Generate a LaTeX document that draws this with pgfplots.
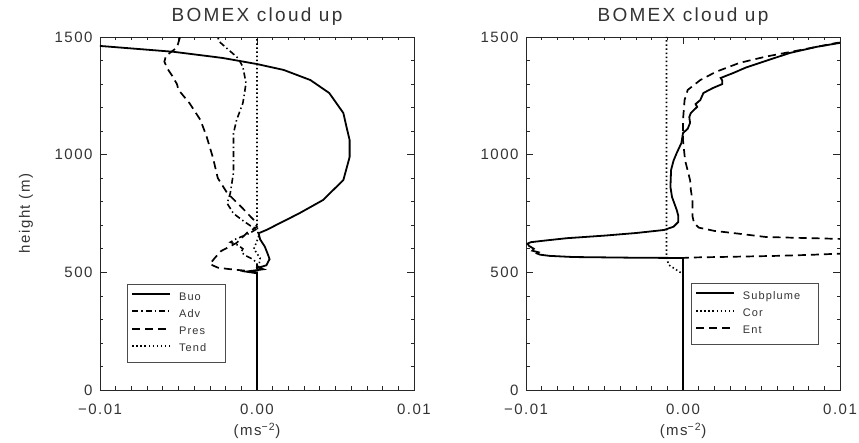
\documentclass[border=0pt]{standalone}
\usepackage{fontspec}
\setmainfont{Liberation Sans}[LetterSpace=10]
\usepackage{pgfplots}
\pgfplotsset{compat=1.18}
\pgfplotsset{legend image code/.code={\draw[#1, line width=1.9pt] (0pt,3pt) -- (38pt,3pt);}}
\definecolor{txt}{gray}{0.2}
\tikzset{
 sol/.style={black, line width=1.8pt, solid},
 dd/.style={black, line width=1.6pt, dash pattern=on 6pt off 3pt on 1.4pt off 3pt},
 dsh/.style={black, line width=1.7pt, dash pattern=on 8pt off 5pt},
 dot/.style={black, line width=1.6pt, dash pattern=on 1.5pt off 2.6pt},
}
\begin{document}
\begin{tikzpicture}[x=1pt,y=1pt]
\useasboundingbox (-100,-53) rectangle (759,390);
\pgfplotsset{
 panel/.style={
  width=314pt, height=353pt, scale only axis,
  xmin=-0.01, xmax=0.01, ymin=0, ymax=1500,
  xtick={-0.01,0,0.01}, xticklabels={−0.01,0.00,0.01},
  ytick={0,500,1000,1500}, yticklabels={0,500,1000,1500},
  scaled x ticks=false,
  /pgf/number format/assume math mode=true,
  minor x tick num=9, minor y tick num=4,
  major tick length=7pt, minor tick length=3.5pt,
  tick align=inside,
  tick style={black!85, line width=0.7pt},
  axis line style={black!85, line width=0.8pt},
  every tick label/.append style={font=\fontsize{15}{17}\selectfont, text=txt},
  yticklabel style={xshift=-4pt},
  xticklabel style={yshift=-10pt},
  title={\addfontfeature{LetterSpace=12}BOMEX cloud up},
  title style={font=\fontsize{19}{21}\selectfont, text=txt, at={(axis description cs:0.5,1)}, anchor=base, yshift=9pt},
  xlabel={(ms\textsuperscript{−2})},
  xlabel style={font=\fontsize{15}{17}\selectfont, text=txt, at={(axis description cs:0.5,0)}, anchor=center, yshift=-41pt},
  legend cell align=left,
  legend style={draw=black!70, font=\fontsize{11}{13}\selectfont, text=txt,
    anchor=south west, inner xsep=4pt, inner ysep=8pt, row sep=7.3pt, column sep=8pt,
    nodes={inner sep=0pt, text height=8pt, text depth=2pt}},
 },
}
\begin{axis}[panel, at={(0pt,0pt)}, anchor=south west,
  ylabel={height (m)},
  ylabel style={font=\fontsize{15}{17}\selectfont, text=txt, at={(axis description cs:-0.236,0.5)}, anchor=center},
  legend style={at={(0.086,0.079)}}]
\addplot[sol] coordinates {(0,0) (0,496) (-0.0007,503) (0.0004,513) (0.0001,520) (0.0006,530) (0.0008,556) (0.0007,575) (0.0005,609) (0.0002,640) (0.0001,666) (0.0006,680) (0.0027,751) (0.0042,807) (0.0055,892) (0.0059,990) (0.0059,1062) (0.0057,1118) (0.0055,1177) (0.0046,1262) (0.0034,1317) (0.0017,1360) (0,1385) (-0.0022,1411) (-0.0053,1437) (-0.0100,1462) (-0.0110,1467)};
\addlegendentry{Buo}
\addplot[dd] coordinates {(0,0) (0,540) (-0.0003,557) (-0.0007,570) (-0.0010,585) (-0.0009,600) (-0.0012,615) (-0.0017,628) (-0.0014,640) (-0.0005,665) (0,685) (-0.0004,697) (-0.0009,720) (-0.0015,750) (-0.0019,793) (-0.0017,837) (-0.0016,880) (-0.0015,922) (-0.0015,980) (-0.0015,1033) (-0.0015,1090) (-0.0013,1147) (-0.0009,1219) (-0.0008,1260) (-0.0007,1304) (-0.0009,1373) (-0.0012,1410) (-0.0018,1445) (-0.0024,1480) (-0.0025,1500)};
\addlegendentry{Adv}
\addplot[dsh] coordinates {(0,0) (0,500) (-0.0006,506) (-0.0018,514) (-0.0025,520) (-0.0030,535) (-0.0027,560) (-0.0023,590) (-0.0013,625) (-0.0006,670) (0,693) (-0.0002,722) (-0.0010,778) (-0.0019,837) (-0.0025,901) (-0.0028,986) (-0.0032,1075) (-0.0036,1147) (-0.0043,1219) (-0.0050,1275) (-0.0051,1300) (-0.0054,1335) (-0.0057,1365) (-0.0059,1395) (-0.0058,1420) (-0.0051,1455) (-0.0049,1500)};
\addlegendentry{Pres\hspace*{16pt}}
\addplot[dot] coordinates {(0,0) (0,500) (0.0001,520) (0.0002,560) (-0.0002,600) (0.0001,650) (0,700) (0,1500)};
\addlegendentry{Tend}
\end{axis}
\begin{axis}[panel, at={(426pt,0pt)}, anchor=south west,
  legend style={at={(0.525,0.130)}}]
\addplot[sol] coordinates {(0,0) (0,561) (-0.0030,562) (-0.0070,565) (-0.0085,570) (-0.0091,575) (-0.0093,580) (-0.0092,585) (-0.0096,592) (-0.0095,600) (-0.0098,612) (-0.0099,622) (-0.0097,628) (-0.0088,635) (-0.0074,645) (-0.0050,656) (-0.0030,667) (-0.0012,680) (-0.0006,694) (-0.0003,714) (-0.0003,740) (-0.0004,765) (-0.0007,820) (-0.0008,863) (-0.00076,935) (-0.0006,975) (-0.0004,1007) (-0.0001,1050) (0.0000,1092) (0.0003,1110) (0.00045,1135) (0.0004,1160) (0.0005,1177) (0.0009,1203) (0.0008,1215) (0.0011,1232) (0.0013,1262) (0.0019,1283) (0.0025,1300) (0.0025,1315) (0.0024,1326) (0.0032,1347) (0.0040,1370) (0.0049,1390) (0.0058,1410) (0.0068,1432) (0.0085,1458) (0.0100,1475) (0.0110,1485)};
\addlegendentry{Subplume\hspace*{14pt}}
\addplot[dot] coordinates {(0,0) (0,495) (-0.0002,501) (-0.0009,531) (-0.00105,560) (-0.00105,1500)};
\addlegendentry{Cor}
\addplot[dsh] coordinates {(0,0) (0,558) (0.0000,561) (0.0005,563) (0.0030,566) (0.0060,570) (0.0080,574) (0.0095,578) (0.0120,583) (0.0200,600) (0.0150,630) (0.0100,642) (0.0053,650) (0.0032,667) (0.0020,676) (0.0010,690) (0.0007,710) (0.0006,740) (0.0006,807) (0.0005,850) (0.00045,892) (0.00013,977) (0,1062) (0,1147) (0.0001,1232) (0.0003,1275) (0.0011,1317) (0.0021,1352) (0.0036,1390) (0.0053,1417) (0.0075,1445) (0.0098,1475) (0.0110,1485)};
\addlegendentry{Ent}
\end{axis}
\end{tikzpicture}
\end{document}
